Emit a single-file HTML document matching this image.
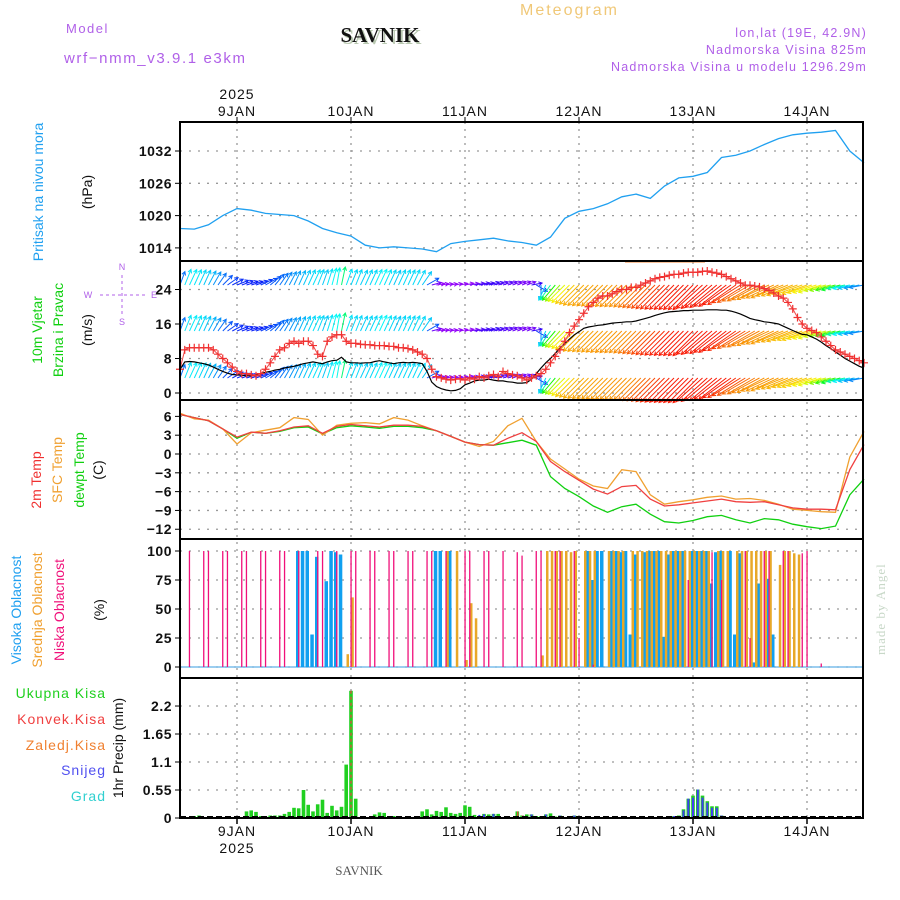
<!DOCTYPE html>
<html><head><meta charset="utf-8"><style>
html,body{margin:0;padding:0;background:#fff;}
svg{display:block;font-family:"Liberation Sans",sans-serif;}
</style></head><body>
<svg id="chart" width="900" height="900" viewBox="0 0 900 900" xmlns="http://www.w3.org/2000/svg">
<rect x="0" y="0" width="900" height="900" fill="#fff"/>
<g>
<text x="66" y="33" font-size="13" fill="#b060e8" letter-spacing="1.5">Model</text>
<text x="64" y="63" font-size="15" fill="#b060e8" letter-spacing="1.6">wrf−nmm_v3.9.1 e3km</text>
<text x="382" y="44" font-size="21" font-weight="bold" fill="#b8c8b0" text-anchor="middle" font-family="Liberation Serif,serif">SAVNIK</text>
<text x="380" y="42" font-size="21" font-weight="bold" fill="#111" text-anchor="middle" font-family="Liberation Serif,serif">SAVNIK</text>
<text x="520" y="15" font-size="16" fill="#f0c878" letter-spacing="2">Meteogram</text>
<text x="867" y="37" font-size="12.5" fill="#b060e8" text-anchor="end" letter-spacing="1.2">lon,lat (19E, 42.9N)</text>
<text x="867" y="54" font-size="12.5" fill="#b060e8" text-anchor="end" letter-spacing="1.2">Nadmorska Visina 825m</text>
<text x="867" y="71" font-size="12.5" fill="#b060e8" text-anchor="end" letter-spacing="1.2">Nadmorska Visina u modelu 1296.29m</text>
<text x="237" y="99" font-size="14" fill="#111" text-anchor="middle" letter-spacing="1">2025</text>
<text x="359" y="875" font-size="13" fill="#555" text-anchor="middle" font-family="Liberation Serif,serif">SAVNIK</text>
<text transform="translate(885,655) rotate(-90)" font-size="13" fill="#c8d8c8" font-family="Liberation Serif,serif" letter-spacing="1">made by Angel</text>
</g>
<g>
<text transform="translate(43,192) rotate(-90)" font-size="14" fill="#20a0f0" text-anchor="middle">Pritisak na nivou mora</text>
<text transform="translate(92,192) rotate(-90)" font-size="14" fill="#111" text-anchor="middle">(hPa)</text>
<text transform="translate(42,330) rotate(-90)" font-size="14" fill="#10d010" text-anchor="middle">10m Vjetar</text>
<text transform="translate(63,330) rotate(-90)" font-size="14" fill="#10d010" text-anchor="middle">Brzina i Pravac</text>
<text transform="translate(92,330) rotate(-90)" font-size="14" fill="#111" text-anchor="middle">(m/s)</text>
<g fill="#b060e8" stroke="#b060e8" font-size="9">
<text x="122" y="270" text-anchor="middle" stroke="none">N</text>
<text x="122" y="325" text-anchor="middle" stroke="none">S</text>
<text x="88" y="298" text-anchor="middle" stroke="none">W</text>
<text x="154" y="298" text-anchor="middle" stroke="none">E</text>
<line x1="122" y1="275" x2="122" y2="316" stroke-dasharray="3,3"/>
<line x1="100" y1="295" x2="146" y2="295" stroke-dasharray="3,3"/>
</g>
<text transform="translate(41,480) rotate(-90)" font-size="14" fill="#f03030" text-anchor="middle">2m Temp</text>
<text transform="translate(62,470) rotate(-90)" font-size="14" fill="#f0a030" text-anchor="middle">SFC Temp</text>
<text transform="translate(84,470) rotate(-90)" font-size="14" fill="#10d010" text-anchor="middle">dewpt Temp</text>
<text transform="translate(103,470) rotate(-90)" font-size="14" fill="#111" text-anchor="middle">(C)</text>
<text transform="translate(21,610) rotate(-90)" font-size="14" fill="#20a0f0" text-anchor="middle">Visoka Oblacnost</text>
<text transform="translate(42,610) rotate(-90)" font-size="14" fill="#f0a030" text-anchor="middle">Srednja Oblacnost</text>
<text transform="translate(64,610) rotate(-90)" font-size="14" fill="#f0107a" text-anchor="middle">Niska Oblacnost</text>
<text transform="translate(104,610) rotate(-90)" font-size="14" fill="#111" text-anchor="middle">(%)</text>
<text x="106" y="698" font-size="14" fill="#20d020" text-anchor="end" letter-spacing="1">Ukupna Kisa</text>
<text x="106" y="724" font-size="14" fill="#f04040" text-anchor="end" letter-spacing="1">Konvek.Kisa</text>
<text x="106" y="750" font-size="14" fill="#f08030" text-anchor="end" letter-spacing="1">Zaledj.Kisa</text>
<text x="106" y="775" font-size="14" fill="#5050f0" text-anchor="end" letter-spacing="1">Snijeg</text>
<text x="106" y="801" font-size="14" fill="#30d0d0" text-anchor="end" letter-spacing="1">Grad</text>
<text transform="translate(123,748) rotate(-90)" font-size="14" fill="#111" text-anchor="middle">1hr Precip (mm)</text>
</g>
<g id="grid"></g>
<g id="marks"></g>
<g id="frames"></g>
<g id="labels"></g>
</svg>
<script>
// ---------- data ----------
const dayLabels = ["9JAN","10JAN","11JAN","12JAN","13JAN","14JAN"];
const dayHours = [0,24,48,72,96,120];
const pressureTicks = [1014,1020,1026,1032];
const windTicks = [0,8,16,24];
const tempTicks = [-12,-9,-6,-3,0,3,6];
const cloudTicks = [0,25,50,75,100];
const precipTicks = [0,0.55,1.1,1.65,2.2];
const precipTickLabels = ["0","0.55","1.1","1.65","2.2"];
// 3-hourly series, hours relative to 9JAN 00 UTC, starting at -12
const hours3 = [-12,-9,-6,-3,0,3,6,9,12,15,18,21,24,27,30,33,36,39,42,45,48,51,54,57,60,63,66,69,72,75,78,81,84,87,90,93,96,99,102,105,108,111,114,117,120,123,126,129,132];
const pressure = [1017.6,1017.5,1018.3,1020.0,1021.3,1021.0,1020.4,1020.2,1020.0,1019.0,1017.6,1016.8,1016.2,1014.5,1014.0,1014.2,1014.0,1013.8,1013.3,1014.8,1015.2,1015.5,1015.8,1015.3,1015.0,1014.5,1016.0,1019.5,1020.8,1021.3,1022.2,1023.5,1024.0,1023.2,1025.5,1027.0,1027.3,1028.0,1030.8,1031.2,1032.0,1033.2,1034.3,1035.0,1035.3,1035.5,1035.8,1032.0,1029.8];
const temp2m = [6.3,5.8,5.3,4.0,2.7,3.5,3.3,3.7,4.3,4.5,3.3,4.4,4.7,4.5,4.3,4.6,4.6,4.4,3.7,2.8,1.9,1.5,1.4,2.5,3.4,2.0,-1.2,-2.8,-4.2,-5.6,-6.4,-5.2,-5.0,-7.2,-8.3,-8.1,-7.8,-7.5,-7.2,-7.6,-7.7,-7.6,-8.1,-8.6,-8.8,-8.8,-8.9,-2.5,1.5];
const tempSfc = [6.5,5.6,5.4,4.0,1.6,3.4,3.8,4.2,5.8,5.5,3.0,4.6,4.9,5.0,4.8,5.8,5.4,4.5,3.7,2.8,1.9,1.2,2.0,4.5,5.7,2.0,-0.8,-2.4,-4.0,-5.1,-5.5,-2.5,-2.8,-6.5,-8.0,-7.6,-7.3,-6.9,-6.7,-7.2,-7.1,-7.4,-8.0,-8.8,-9.0,-9.2,-9.3,-0.5,3.6];
const dewpt = [6.3,5.8,5.3,4.0,2.5,3.5,3.3,3.6,4.2,4.3,3.2,4.2,4.5,4.3,4.1,4.4,4.4,4.2,3.7,2.8,1.9,1.5,1.4,1.8,2.2,1.4,-3.6,-5.5,-6.8,-8.3,-9.3,-8.4,-8.0,-9.6,-10.8,-11.0,-10.6,-10.0,-9.8,-10.5,-11.0,-10.3,-10.5,-11.2,-11.6,-11.9,-11.5,-6.5,-4.0];
// hourly series, index 0 = hour -12
const windSpeed = [
5.5,7.2,7.3,7.2,7.0,6.8,6.5,6.0,5.5,5.0,4.6,4.3,
4.2,4.1,4.0,4.0,4.2,4.5,4.8,5.0,5.3,5.5,5.8,6.0,
6.2,6.5,6.8,7.0,7.2,7.0,6.8,7.2,7.5,7.6,8.3,7.2,
7.0,7.0,6.9,7.0,7.0,7.3,7.5,7.2,7.0,6.8,7.0,7.1,
7.0,7.1,7.0,6.8,5.0,2.5,1.5,1.0,0.7,0.5,0.6,1.0,
1.9,2.3,2.8,3.0,3.0,3.2,3.0,2.8,2.8,2.6,2.5,2.3,
2.3,2.4,3.2,4.5,5.8,7.0,8.0,9.2,10.4,11.5,12.5,13.5,
14.2,15.0,15.3,15.5,15.7,15.8,16.0,16.2,16.3,16.4,16.5,16.5,
16.7,17.0,17.3,17.6,18.0,18.3,18.6,18.8,18.9,19.0,19.1,19.1,
19.2,19.2,19.2,19.3,19.3,19.3,19.2,19.2,19.0,18.7,18.3,17.8,
17.3,17.0,16.8,16.5,16.4,16.2,16.0,15.5,15.0,14.5,14.0,13.6,
13.5,13.0,12.5,11.8,11.0,10.3,9.5,8.8,8.0,7.4,6.8,6.2,
5.8];
const windGust = [
5.5,10,10.5,10.5,10.5,10.5,10.5,10,9,8,7,6,
5,4.5,4.5,4.2,4.0,4.5,5.5,7,8.5,10,10.5,11.5,
12,11.5,12,12,11,9,8.5,12,13,13.5,13.5,12,
11.5,11.5,11.3,11.2,11.2,11.0,11.0,11.0,10.8,10.8,10.5,10.5,
10.3,10.0,9.5,9.0,8.0,5.5,3.8,3.5,3.2,3.0,3.2,3.3,
3.0,3.5,3.2,3.8,3.5,4.0,4.3,3.8,5.0,4.5,4.2,4.0,
3.5,3.0,3.5,4.0,4.5,5.5,7,8.5,10,12,14,15.5,
17,18.5,20,21,22,22.5,22.5,23,23.5,24,24,24.5,
24.5,25,25.5,26,26.5,26.8,27,27.3,27.5,27.5,27.8,28,
28,28,28.2,28.3,28,27.8,27.5,27,26.5,26,25.5,25,
25,24.8,24.6,24.2,23.8,23.2,22.5,22,21,19.5,17.5,16,
15,14.5,14,13,12,11,10,9.5,9,8.5,8,7.5,
7];
const windDir = [
20,22,25,25,25,25,28,30,35,45,55,62,
68,70,72,72,70,65,60,50,40,35,30,28,
25,25,25,25,25,22,20,18,15,10,12,20,
22,22,25,25,25,25,25,25,25,25,25,25,
25,25,28,35,60,75,80,80,80,80,78,78,
78,80,80,78,78,75,75,72,72,70,70,68,
68,70,80,120,180,205,215,220,222,225,225,225,
225,225,225,225,225,225,225,225,225,225,225,225,
225,225,225,225,225,225,225,225,225,225,225,225,
225,225,228,228,230,230,232,232,235,235,238,238,
240,240,242,242,245,245,245,248,248,248,250,250,
250,252,252,252,255,255,255,255,258,258,258,258,260];
const cloudLow = [
0,0,100,0,0,100,100,0,0,100,100,0,
0,100,100,0,0,100,100,0,0,100,100,0,
0,100,0,0,0,100,100,0,0,100,0,0,
100,100,0,0,100,100,0,0,100,100,0,0,
100,100,0,0,100,100,0,0,100,0,0,0,
100,100,0,0,100,100,0,0,100,0,0,99,
96,0,0,100,100,0,0,100,100,0,0,100,
25,0,0,2,0,0,0,0,0,0,0,0,
0,0,0,0,0,0,0,0,0,0,0,75,
0,0,0,0,99,0,75,0,0,0,0,100,
25,0,0,100,100,0,0,100,100,0,0,98,
100,0,0,3,0,0,0,0,0,0,0,0,0];
const cloudMid = [
0,0,0,0,0,0,0,0,0,0,0,0,
0,0,0,0,0,0,0,0,0,0,0,0,
0,0,0,0,0,0,0,0,0,0,0,11,
60,0,0,0,0,0,0,0,0,0,0,0,
0,0,0,0,0,0,0,0,100,0,100,0,
6,55,42,0,0,0,0,0,0,0,0,0,
0,0,0,0,10,100,100,100,100,100,99,100,
0,100,100,100,0,0,100,100,100,100,0,100,
100,100,100,100,100,100,100,100,100,100,100,100,
100,100,100,100,0,100,100,100,0,100,100,100,
100,100,100,100,100,0,88,100,100,98,97,0,
0,0,0,0,0,0,0,0,0,0,0,0,0];
const cloudHigh = [
0,0,0,0,0,0,0,0,0,0,0,0,
0,0,0,0,0,0,0,0,0,0,0,0,
0,100,100,100,28,95,0,74,100,99,97,0,
0,0,0,0,0,0,0,0,0,0,0,0,
0,0,0,0,0,0,100,100,0,100,0,0,
0,0,0,0,0,0,0,0,0,0,0,0,
0,0,0,0,0,0,0,0,0,0,0,0,
0,0,100,75,100,100,0,100,100,99,100,28,
97,0,99,100,100,100,26,97,100,100,100,0,
100,100,100,100,72,99,100,0,100,28,98,0,
0,4,72,0,76,28,0,0,0,0,0,0,
0,0,0,0,0,0,0,0,0,0,0,0,0];
const precipTotal = [
0,0,0,0.04,0.05,0,0,0,0,0,0,0,
0,0,0.13,0.15,0.12,0.04,0.03,0.05,0.05,0.05,0.08,0.12,
0.2,0.19,0.55,0.26,0.13,0.27,0.36,0.1,0.24,0.15,0.22,1.05,
2.5,0.38,0,0,0.02,0.07,0.11,0.1,0.03,0.04,0,0.02,
0,0,0.02,0.13,0.17,0.07,0.14,0.12,0.21,0.1,0.08,0.1,
0.25,0.22,0.06,0.02,0.08,0.07,0.08,0.08,0.02,0,0,0.13,
0.05,0.07,0.07,0.04,0.04,0.07,0.09,0.03,0.05,0,0,0.05,
0.02,0,0,0,0,0,0,0,0,0,0,0,
0,0,0,0,0,0,0,0,0.04,0.05,0.17,0.38,
0.44,0.56,0.44,0.33,0.23,0.23,0.05,0,0,0,0,0,
0,0,0,0,0,0,0,0,0,0,0,0,
0,0,0,0,0,0,0,0,0,0,0,0,0];
const precipSnow = [
0,0,0,0,0,0,0,0,0,0,0,0,
0,0,0,0,0,0,0,0,0,0,0,0,
0,0,0,0,0,0,0,0,0,0,0,0,
0,0,0,0,0,0,0,0,0,0,0,0,
0,0,0,0,0,0,0,0,0,0,0,0,
0,0,0,0.06,0.07,0,0.08,0,0,0,0,0,
0,0,0.07,0,0,0.07,0,0,0.05,0,0,0.05,
0.02,0,0,0,0,0,0,0,0,0,0,0,
0,0,0,0,0,0,0,0,0.04,0,0.15,0.38,
0.4,0.56,0.4,0.3,0.2,0.2,0.05,0,0,0,0,0,
0,0,0,0,0,0,0,0,0,0,0,0,
0,0,0,0,0,0,0,0,0,0,0,0,0];
const precipConv = [
0,0,0,0,0,0,0,0,0,0,0,0,
0,0,0,0,0,0,0,0,0,0,0,0,
0,0,0,0,0,0,0,0,0,0,0,0,
0.05,0,0,0,0,0,0,0,0,0,0,0,
0,0,0,0.02,0,0,0,0,0,0,0,0,
0.03,0,0,0,0,0,0,0,0,0,0,0.13,
0.05,0,0,0,0,0,0,0,0,0,0,0,
0,0,0,0,0,0,0,0,0,0,0,0,
0,0,0,0,0,0,0,0,0,0,0,0,
0,0,0,0,0,0,0,0,0,0,0,0,
0,0,0,0,0,0,0,0,0,0,0,0,
0,0,0,0,0,0,0,0,0,0,0,0,0];

// ---------- scales ----------
const NS = "http://www.w3.org/2000/svg";
const X0 = 180, X1 = 863;
function xHour(t){ return 237 + t * 114 / 24; }
function xIdx(i){ return xHour(i - 12); }
function yP(p){ return 151 + (1032 - p) * 32.3 / 6; }
function yW(v){ return 393 - v * 4.3125; }
function yT(v){ return 454 - v * 6.27; }
function yC(v){ return 667 - v * 1.16; }
function yR(v){ return 818 - v * 50.9; }
const panels = [[122,261],[261,400],[400,539],[539,678],[678,818]];

function el(tag, attrs, parent){
  const e = document.createElementNS(NS, tag);
  for (const k in attrs) e.setAttribute(k, attrs[k]);
  parent.appendChild(e);
  return e;
}
const grid = document.getElementById('grid');
const marks = document.getElementById('marks');
const frames = document.getElementById('frames');
const labels = document.getElementById('labels');

dayHours.forEach(function(h){
  const x = xHour(h);
  const g = el('line', {x1:x, y1:122, x2:x, y2:818, stroke:'#999', 'stroke-width':1.3, 'stroke-dasharray':'2,5'}, grid);
  
  
});
function hGrid(ticks, yf, labelsArr, name){
  ticks.forEach(function(v, i){
    const y = yf(v);
    const g = el('line', {x1:X0, y1:y, x2:X1, y2:y, stroke:'#999', 'stroke-width':1.3, 'stroke-dasharray':'2,7'}, grid);
    
    
    const tk = el('line', {x1:X0-5, y1:y, x2:X0, y2:y, stroke:'#000', 'stroke-width':1}, frames);
    
    
    const t = el('text', {x:172, y:y+5, 'font-size':14, 'text-anchor':'end', fill:'#111', 'font-weight':'bold', 'letter-spacing':'0.5'}, labels);
    t.textContent = labelsArr ? labelsArr[i] : String(v).replace('-', '\u2212');
    
    
  });
}
hGrid(pressureTicks, yP, null, 'pressure');
hGrid(windTicks, yW, null, 'wind');
hGrid(tempTicks, yT, null, 'temp');
hGrid(cloudTicks, yC, null, 'cloud');
hGrid(precipTicks, yR, precipTickLabels, 'precip');

function polyline(xs, ys, color, name, width){
  let d = '';
  for (let i = 0; i < xs.length; i++) d += (i ? 'L' : 'M') + xs[i].toFixed(1) + ',' + ys[i].toFixed(1);
  const p = el('path', {d:d, fill:'none', stroke:color, 'stroke-width':width || 1.3}, marks);
  
  
  return p;
}
polyline(hours3.map(xHour), pressure.map(yP), '#20a0f0', 'pressure-line', 1.3);

function windHue(s){
  const stops = [[2,275],[4,235],[6,205],[7.5,180],[9,120],[11,70],[14,45],[16.5,35],[19,5]];
  if (s <= stops[0][0]) return stops[0][1];
  for (let i = 1; i < stops.length; i++){
    if (s <= stops[i][0]){
      const a = stops[i-1], b = stops[i];
      return a[1] + (b[1]-a[1]) * (s-a[0]) / (b[0]-a[0]);
    }
  }
  return 5;
}
const rowBases = [285, 331, 378];
rowBases.forEach(function(yb, r){
  const g = el('g', {}, marks);
  
  
  windSpeed.forEach(function(s, i){
    const x = xIdx(i);
    const a = windDir[i] * Math.PI / 180;
    const L = 6 + s * 1.5;
    const x2 = x + L * Math.sin(a), y2 = yb - L * Math.cos(a);
    const col = 'hsl(' + windHue(s).toFixed(0) + ',95%,50%)';
    const h1 = a + Math.PI - 0.5, h2 = a + Math.PI + 0.5;
    const d = 'M' + x.toFixed(1) + ',' + yb + 'L' + x2.toFixed(1) + ',' + y2.toFixed(1) +
      'M' + (x2 + 4*Math.sin(h1)).toFixed(1) + ',' + (y2 - 4*Math.cos(h1)).toFixed(1) + 'L' + x2.toFixed(1) + ',' + y2.toFixed(1) +
      'L' + (x2 + 4*Math.sin(h2)).toFixed(1) + ',' + (y2 - 4*Math.cos(h2)).toFixed(1);
    const p = el('path', {d:d, stroke:col, 'stroke-width':1, fill:'none'}, g);
    
    
  });
});
polyline(windSpeed.map(function(v,i){return xIdx(i);}), windSpeed.map(yW), '#000', 'wind-speed-line', 1.2);
polyline(windGust.map(function(v,i){return xIdx(i);}), windGust.map(yW), '#f04848', 'wind-gust-line', 1);
const gustG = el('g', {stroke:'#f03030', 'stroke-width':1.2}, marks);


windGust.forEach(function(v, i){
  const x = xIdx(i), y = yW(v);
  const m = el('path', {d:'M'+(x-4)+','+y+'H'+(x+4)+'M'+x+','+(y-4)+'V'+(y+4)}, gustG);
  
  
});
const topLine = el('line', {x1:625, y1:261.5, x2:705, y2:261.5, stroke:'#f08030', 'stroke-width':2}, marks);



const xs3 = hours3.map(xHour);
polyline(xs3, dewpt.map(yT), '#10d010', 'dewpoint-line', 1.3);
polyline(xs3, tempSfc.map(yT), '#f0a030', 'sfc-temp-line', 1.3);
polyline(xs3, temp2m.map(yT), '#f04040', 'temp-2m-line', 1.3);

const baseC = el('line', {x1:X0, y1:667, x2:X1, y2:667, stroke:'#60b0e8', 'stroke-width':1.2}, marks);


function bars(arr, yf, color, w, off, name){
  const g = el('g', {fill:color}, marks);
  
  
  arr.forEach(function(v, i){
    if (v <= 0) return;
    const x = xIdx(i) + off;
    const y = yf(v), y0 = yf(0);
    const r = el('rect', {x:(x - w/2).toFixed(1), y:y.toFixed(1), width:w, height:(y0 - y).toFixed(1)}, g);
    
    
  });
}
bars(cloudHigh, yC, '#10a0f0', 3.5, -1, 'cloud-high');
bars(cloudMid, yC, '#e8a828', 2.5, 1.5, 'cloud-mid');
bars(cloudLow, yC, '#f0107a', 1.3, 0, 'cloud-low');

bars(precipTotal, yR, '#20d020', 3.6, 0, 'precip-total');
bars(precipSnow, yR, '#4040f0', 2, 0, 'precip-snow');
bars(precipConv, yR, '#f04040', 1.2, 0.5, 'precip-conv');
precipTotal.forEach(function(v, i){
  if (v > 2){
    const x = xIdx(i);
    const d = el('line', {x1:x, y1:yR(v), x2:x, y2:818, stroke:'#f04040', 'stroke-width':1.2, 'stroke-dasharray':'3,3'}, marks);
    
    
  }
});
const baseR = el('line', {x1:X0, y1:817, x2:X1, y2:817, stroke:'#000', 'stroke-width':2, 'stroke-dasharray':'6,3'}, marks);



panels.forEach(function(p, i){
  const r = el('rect', {x:X0, y:p[0], width:X1-X0, height:p[1]-p[0], fill:'none', stroke:'#000', 'stroke-width':2}, frames);
  
  
});
dayLabels.forEach(function(lbl, i){
  const x = xHour(dayHours[i]);
  const t1 = el('text', {x:x, y:116, 'font-size':14, 'text-anchor':'middle', fill:'#111', 'letter-spacing':'1'}, labels);
  t1.textContent = lbl;
  
  
  const t2 = el('text', {x:x, y:836, 'font-size':14, 'text-anchor':'middle', fill:'#111', 'letter-spacing':'1'}, labels);
  t2.textContent = lbl;
  
  
  const tk = el('line', {x1:x, y1:818, x2:x, y2:824, stroke:'#000', 'stroke-width':1.5}, frames);
  
  
  const tk2 = el('line', {x1:x, y1:117, x2:x, y2:122, stroke:'#000', 'stroke-width':1}, frames);
  
  
});
const yr = el('text', {x:237, y:853, 'font-size':14, 'text-anchor':'middle', fill:'#111', 'letter-spacing':'1'}, labels);
yr.textContent = '2025';


</script>
</body></html>
